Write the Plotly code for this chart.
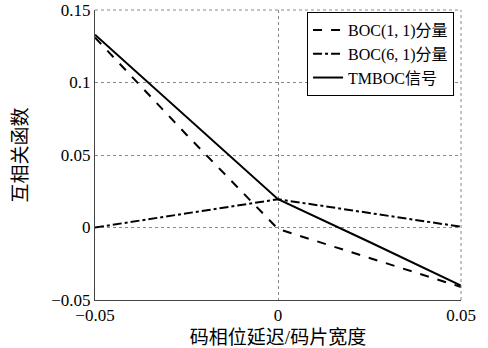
import plotly.graph_objects as go

delay = [-0.05, -0.025, 0.0, 0.025, 0.05]
boc11 = [0.131, 0.064, -0.001, -0.021, -0.041]
boc61 = [0.0, 0.010, 0.0195, 0.010, 0.0005]
tmboc = [0.133, 0.076, 0.0195, -0.010, -0.040]

names = ["BOC(1, 1)分量", "BOC(6, 1)分量", "TMBOC信号"]
xticks = [-0.05, 0, 0.05]
yticks = [-0.05, 0, 0.05, 0.1, 0.15]
xtick_text = ["\u22120.05", "0", "0.05"]
ytick_text = ["\u22120.05", "0", "0.05", "0.1", "0.15"]

serif = "Times New Roman, Liberation Serif, DejaVu Serif, serif"
cjk = "Times New Roman, Liberation Serif, Noto Sans CJK SC, serif"

fig = go.Figure()
fig.add_trace(go.Scatter(x=delay, y=boc11, mode="lines", name=names[0],
                         line=dict(color="black", width=2, dash="dash")))
fig.add_trace(go.Scatter(x=delay, y=boc61, mode="lines", name=names[1],
                         line=dict(color="black", width=2, dash="dashdot")))
fig.add_trace(go.Scatter(x=delay, y=tmboc, mode="lines", name=names[2],
                         line=dict(color="black", width=2)))

fig.update_layout(
    width=488, height=348,
    margin=dict(l=95, r=27, t=10, b=48),
    paper_bgcolor="white", plot_bgcolor="white",
    font=dict(family=serif, color="black", size=17),
    legend=dict(x=0.981, y=0.993, xanchor="right", yanchor="top",
                bgcolor="white", bordercolor="black", borderwidth=1,
                font=dict(family=cjk, size=16), itemwidth=30,
                tracegroupgap=0),
    showlegend=True,
    hovermode=False,
)
fig.update_xaxes(
    range=[-0.05, 0.05], tickvals=xticks, ticktext=xtick_text,
    showgrid=True, gridcolor="#888888", griddash="dot", gridwidth=1,
    zeroline=False, showline=True, linecolor="#444444", linewidth=1,
    ticks="", tickfont=dict(family=serif, size=17), automargin=False,
    ticklabeloverflow="allow",
    title=dict(text="码相位延迟/码片宽度", font=dict(family=cjk, size=19), standoff=8),
)
fig.update_yaxes(
    range=[-0.05, 0.15], tickvals=yticks, ticktext=ytick_text,
    showgrid=True, gridcolor="#888888", griddash="dot", gridwidth=1,
    zeroline=False, showline=True, linecolor="#444444", linewidth=1,
    ticks="", tickfont=dict(family=serif, size=17), automargin=False,
    ticklabeloverflow="allow",
    title=dict(text="互相关函数", font=dict(family=cjk, size=19), standoff=18),
)
fig.add_shape(type="line", xref="paper", yref="paper", x0=0, x1=1, y0=1, y1=1,
              line=dict(color="#888888", width=1, dash="dot"))
fig.add_shape(type="line", xref="paper", yref="paper", x0=1, x1=1, y0=0, y1=1,
              line=dict(color="#888888", width=1, dash="dot"))

fig.write_html("out.html", config={"displayModeBar": False},
               post_script="document.body.style.margin='0';document.body.style.overflow='hidden';")
